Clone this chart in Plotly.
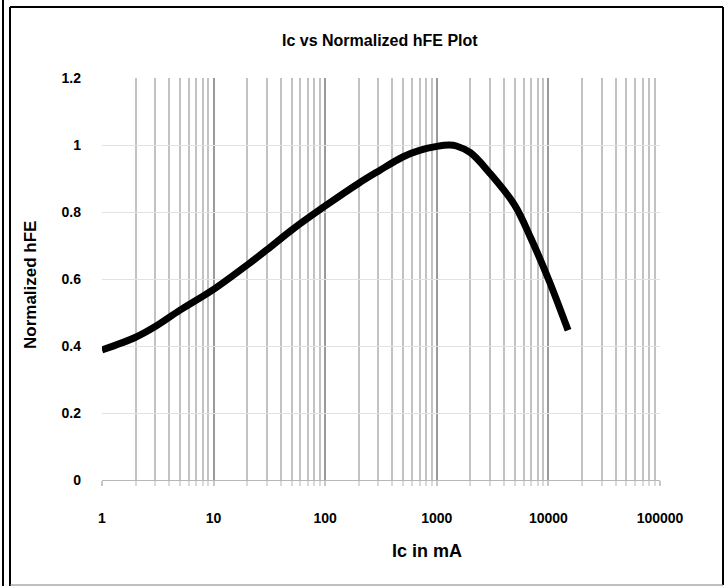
import plotly.graph_objects as go

# Data
ic_ma = [1, 2, 3, 5, 10, 20, 30, 50, 100, 200, 300, 500, 700, 1000, 1300, 1500, 2000, 3000, 5000, 7000, 10000, 15000]
norm_hfe = [0.388, 0.426, 0.458, 0.507, 0.569, 0.642, 0.687, 0.746, 0.818, 0.886, 0.922, 0.965, 0.984, 0.996, 1.0, 0.997, 0.977, 0.915, 0.82, 0.72, 0.6, 0.447]

x_tickvals = [1, 10, 100, 1000, 10000, 100000]
x_ticktext = ["1", "10", "100", "1000", "10000", "100000"]
y_tickvals = [0, 0.2, 0.4, 0.6, 0.8, 1.0, 1.2]
y_ticktext = ["0", "0.2", "0.4", "0.6", "0.8", "1", "1.2"]

W, H = 728, 586
L, R, T, B = 102, 68, 78, 106
pw, ph = W - L - R, H - T - B

def px(x):
    return (x - L) / pw

def py(y):
    return (H - B - y) / ph

FONT = "Liberation Sans, Arial, sans-serif"

fig = go.Figure()
fig.add_trace(go.Scatter(
    x=ic_ma, y=norm_hfe, mode="lines",
    line=dict(color="black", width=7, shape="spline", smoothing=1.0),
    hoverinfo="x+y", showlegend=False,
))

fig.update_layout(
    width=W, height=H,
    margin=dict(l=L, r=R, t=T, b=B),
    paper_bgcolor="white", plot_bgcolor="white",
    font=dict(family=FONT, color="black"),
    showlegend=False,
    xaxis=dict(
        type="log", range=[0, 5],
        tickvals=x_tickvals, ticktext=x_ticktext,
        tickfont=dict(family=FONT, size=14, color="black", weight="bold"),
        showgrid=True, gridcolor="#9a9a9a", gridwidth=1.6,
        ticks="outside", ticklen=5, tickcolor="#c8c8c8", tickwidth=1.6,
        ticklabelstandoff=20,
        showline=True, linecolor="#b8b8b8", linewidth=1.2,
        zeroline=False,
        minor=dict(dtick="D1", showgrid=True, gridcolor="#c2c2c2", gridwidth=1.6,
                   ticks="outside", ticklen=5, tickcolor="#dadada", tickwidth=1.6),
    ),
    yaxis=dict(
        range=[0, 1.2],
        tickvals=y_tickvals, ticktext=y_ticktext,
        tickfont=dict(family=FONT, size=14, color="black", weight="bold"),
        showgrid=True, gridcolor="#e2e2e2", gridwidth=1.2,
        ticks="", ticklabelstandoff=20,
        showline=False, zeroline=False,
    ),
    annotations=[
        dict(text="Ic vs Normalized hFE Plot", xref="paper", yref="paper",
             x=px(380), y=py(41), xanchor="center", yanchor="middle", showarrow=False,
             font=dict(family=FONT, size=16, color="black", weight="bold")),
        dict(text="Ic in mA", xref="paper", yref="paper",
             x=px(427), y=py(551), xanchor="center", yanchor="middle", showarrow=False,
             font=dict(family=FONT, size=18, color="black", weight="bold")),
        dict(text="Normalized hFE", xref="paper", yref="paper",
             x=px(30), y=py(285), xanchor="center", yanchor="middle", showarrow=False,
             textangle=-90,
             font=dict(family=FONT, size=17, color="black", weight="bold")),
    ],
    shapes=[
        dict(type="line", xref="paper", yref="paper", x0=px(3), x1=px(3), y0=py(0), y1=py(586),
             line=dict(color="black", width=2)),
        dict(type="line", xref="paper", yref="paper", x0=px(10), x1=px(10), y0=py(7), y1=py(586),
             line=dict(color="black", width=2)),
        dict(type="line", xref="paper", yref="paper", x0=px(10), x1=px(723), y0=py(7), y1=py(7),
             line=dict(color="black", width=2)),
        dict(type="line", xref="paper", yref="paper", x0=px(723), x1=px(723), y0=py(7), y1=py(585),
             line=dict(color="black", width=2)),
        dict(type="line", xref="paper", yref="paper", x0=px(10), x1=px(723), y0=py(585), y1=py(585),
             line=dict(color="#808080", width=1)),
    ],
)

fig.write_html("out.html",
               config={"displayModeBar": False},
               post_script="document.body.style.margin='0';document.body.style.overflow='hidden';")
